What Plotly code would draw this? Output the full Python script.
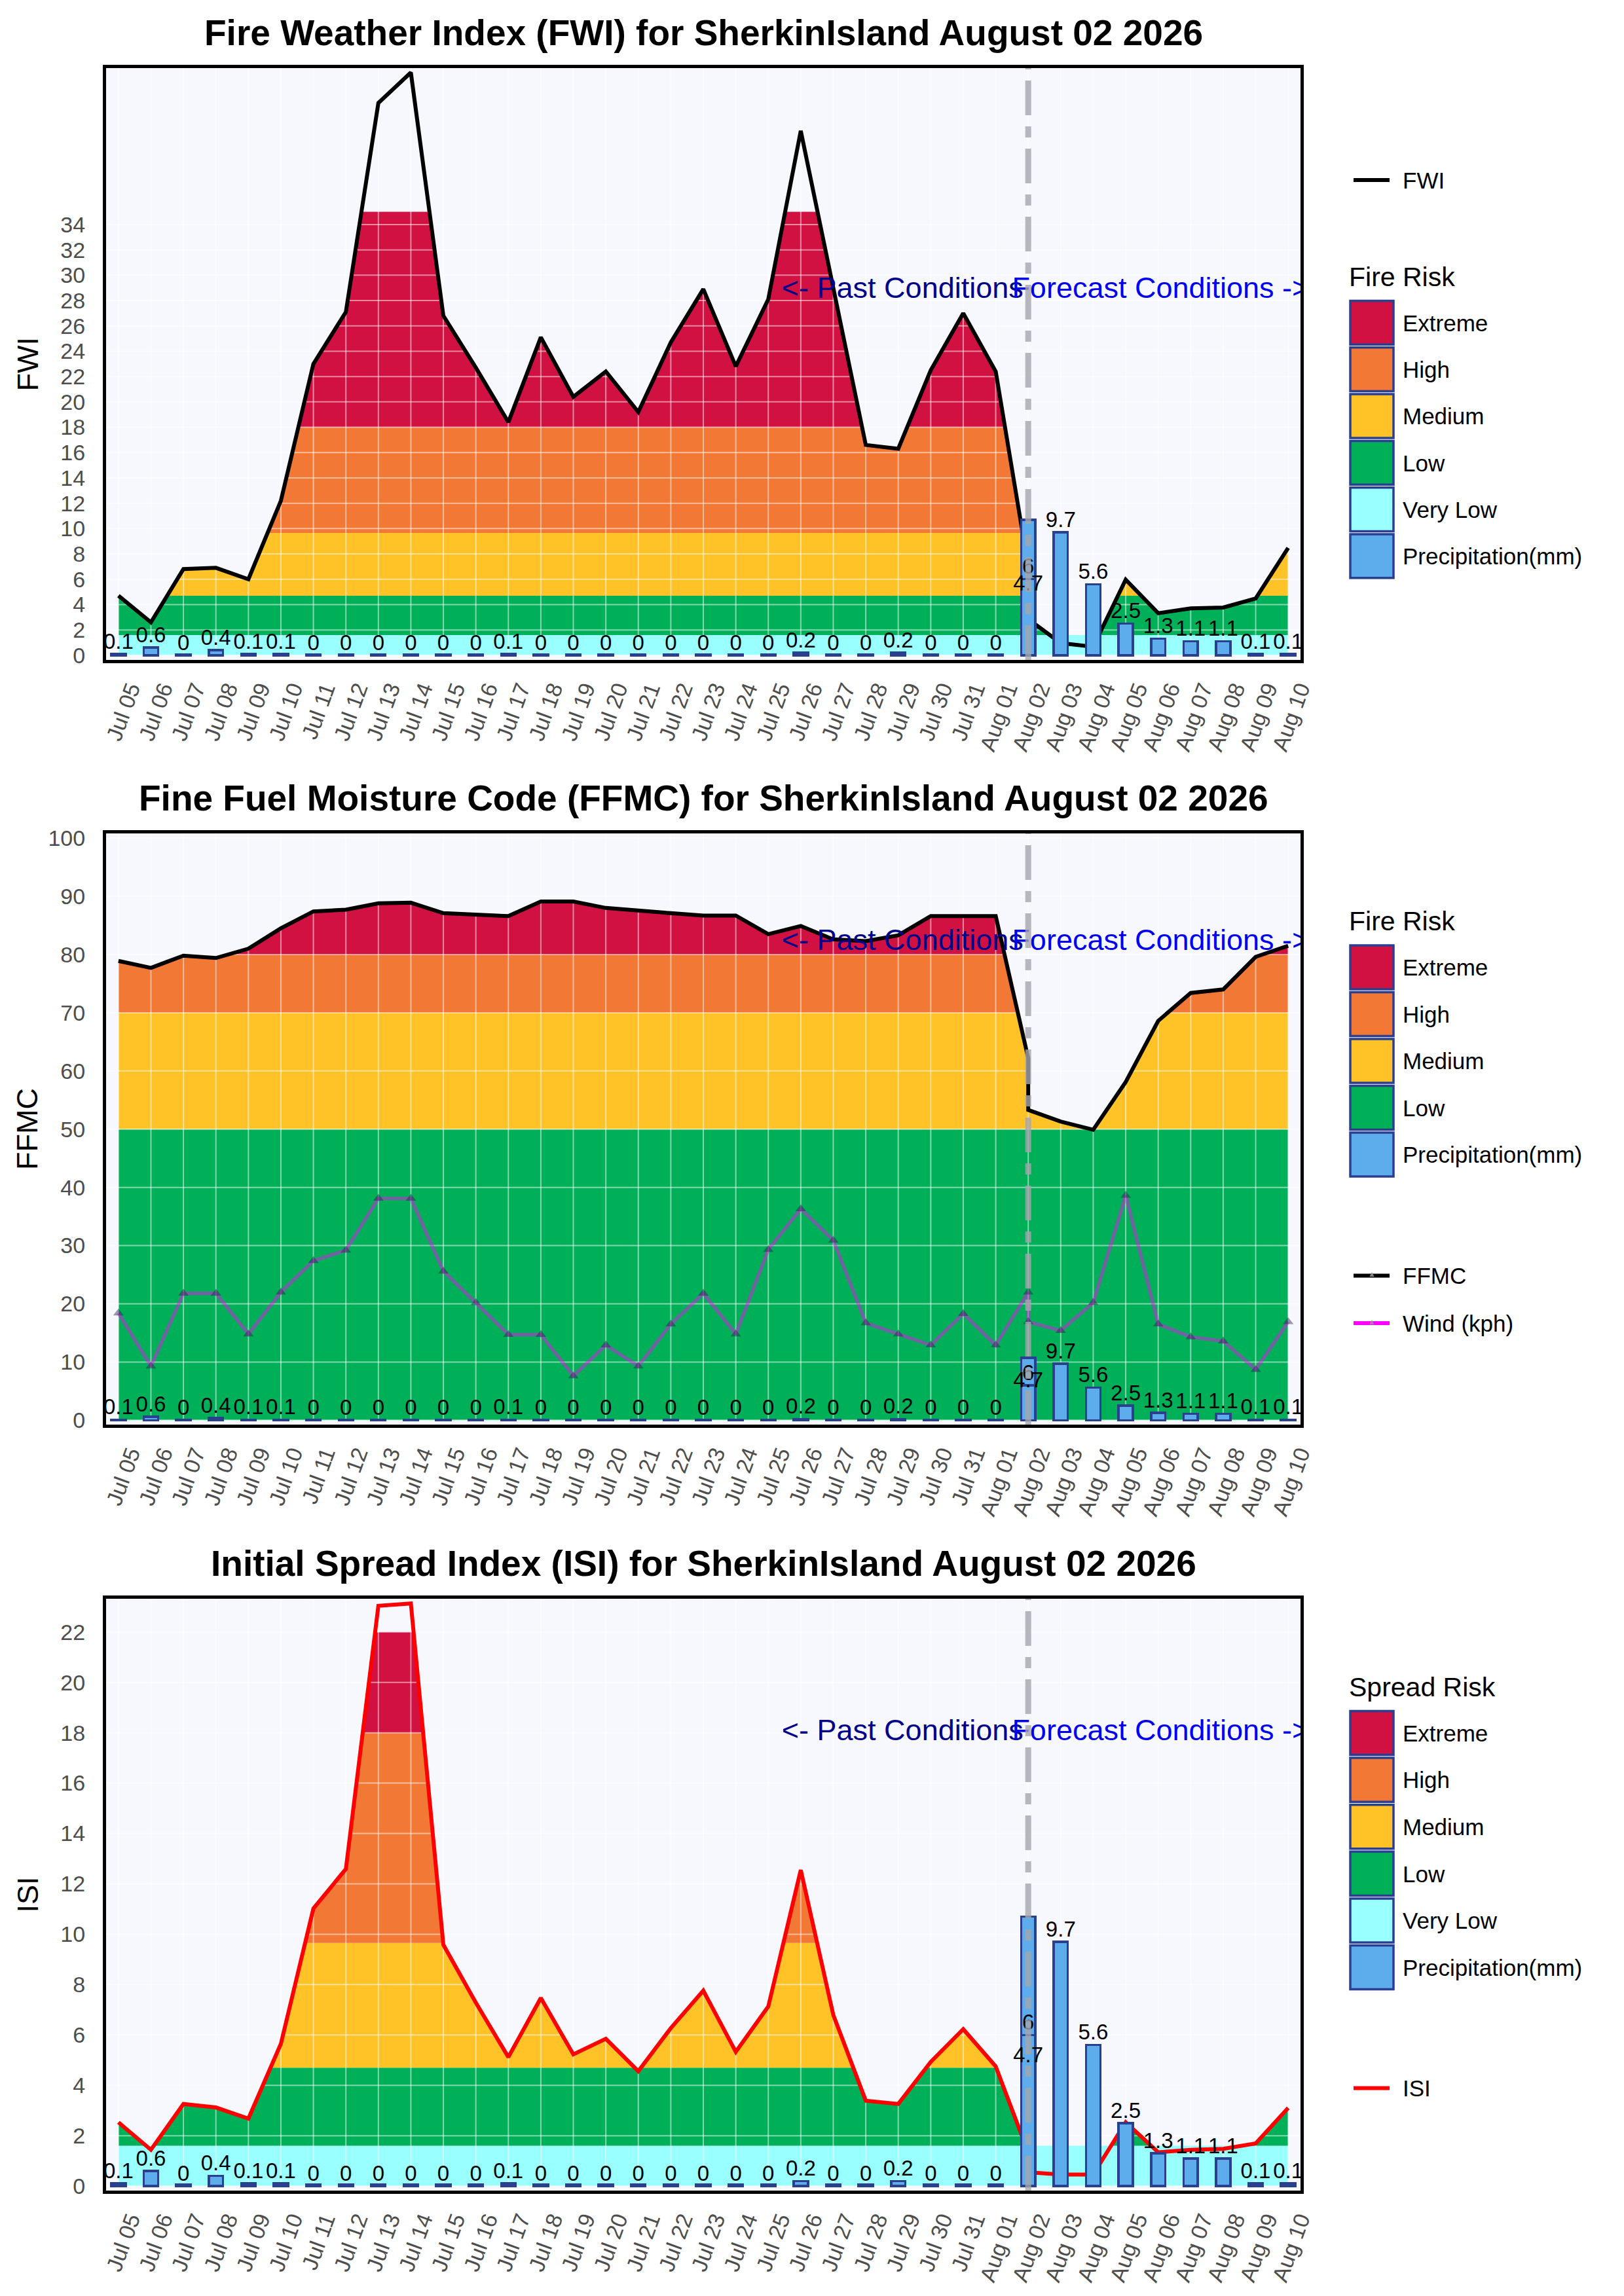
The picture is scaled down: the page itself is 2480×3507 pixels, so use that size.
import plotly.graph_objects as go

# ---------------- data ----------------
cats = ["Jul 05", "Jul 06", "Jul 07", "Jul 08", "Jul 09", "Jul 10", "Jul 11", "Jul 12", "Jul 13",
        "Jul 14", "Jul 15", "Jul 16", "Jul 17", "Jul 18", "Jul 19", "Jul 20", "Jul 21", "Jul 22",
        "Jul 23", "Jul 24", "Jul 25", "Jul 26", "Jul 27", "Jul 28", "Jul 29", "Jul 30", "Jul 31",
        "Aug 01", "Aug 02", "Aug 03", "Aug 04", "Aug 05", "Aug 06", "Aug 07", "Aug 08", "Aug 09",
        "Aug 10"]

# observation dates (Aug 02 appears twice: last observed + first forecast)
dates = ["Jul 05", "Jul 06", "Jul 07", "Jul 08", "Jul 09", "Jul 10", "Jul 11", "Jul 12", "Jul 13",
         "Jul 14", "Jul 15", "Jul 16", "Jul 17", "Jul 18", "Jul 19", "Jul 20", "Jul 21", "Jul 22",
         "Jul 23", "Jul 24", "Jul 25", "Jul 26", "Jul 27", "Jul 28", "Jul 29", "Jul 30", "Jul 31",
         "Aug 01", "Aug 02", "Aug 02", "Aug 03", "Aug 04", "Aug 05", "Aug 06", "Aug 07", "Aug 08",
         "Aug 09", "Aug 10"]

fwi = [4.7, 2.6, 6.8, 6.9, 6.0, 12.2, 23.0, 27.1, 43.6, 46.0, 26.8, 22.7, 18.4, 25.1, 20.4, 22.4,
       19.2, 24.7, 28.9, 22.8, 28.1, 41.4, 29.0, 16.6, 16.3, 22.5, 27.0, 22.4, 7.0, 2.85, 0.96, 0.67,
       5.96, 3.32, 3.7, 3.77, 4.48, 8.47]

ffmc = [78.9, 77.7, 79.8, 79.4, 81.0, 84.5, 87.4, 87.7, 88.8, 88.9, 87.1, 86.9, 86.6, 89.1, 89.1,
        88.0, 87.5, 87.1, 86.7, 86.7, 83.5, 84.9, 82.6, 82.3, 83.3, 86.6, 86.6, 86.6, 62.2, 53.3,
        51.3, 49.9, 58.1, 68.6, 73.4, 74.0, 79.6, 81.5]

wind = [18.4, 9.3, 21.8, 21.8, 14.8, 22.0, 27.4, 29.2, 38.1, 38.1, 25.6, 20.2, 14.7, 14.7, 7.6,
        12.9, 9.3, 16.5, 21.8, 14.8, 29.3, 36.3, 30.9, 16.7, 14.8, 12.9, 18.3, 12.9, 22.0, 16.9,
        15.4, 20.2, 38.6, 16.5, 14.3, 13.6, 8.7, 16.9]

isi = [2.53, 1.44, 3.26, 3.12, 2.68, 5.65, 11.02, 12.59, 23.04, 23.13, 9.58, 7.28, 5.12, 7.47,
       5.23, 5.85, 4.56, 6.27, 7.76, 5.33, 7.13, 12.55, 6.8, 3.39, 3.26, 4.93, 6.23, 4.75, 1.33,
       0.55, 0.46, 0.46, 2.53, 1.34, 1.44, 1.48, 1.69, 3.1]

precip = [0.1, 0.6, 0, 0.4, 0.1, 0.1, 0, 0, 0, 0, 0, 0, 0.1, 0, 0, 0, 0, 0, 0, 0, 0, 0.2, 0, 0,
          0.2, 0, 0, 0, 6, 4.7, 9.7, 5.6, 2.5, 1.3, 1.1, 1.1, 0.1, 0.1]

split_date = "Aug 02"

fwi_ticks = list(range(0, 36, 2))
ffmc_ticks = list(range(0, 101, 10))
isi_ticks = list(range(0, 24, 2))

# risk classes: (name, lower, upper)
fwi_bands = [("Very Low", 0, 1.6), ("Low", 1.6, 4.7), ("Medium", 4.7, 9.65), ("High", 9.65, 18),
             ("Extreme", 18, 35)]
ffmc_bands = [("Low", 0, 50), ("Medium", 50, 70), ("High", 70, 80), ("Extreme", 80, 100)]
isi_bands = [("Very Low", 0, 1.6), ("Low", 1.6, 4.7), ("Medium", 4.7, 9.65), ("High", 9.65, 18),
             ("Extreme", 18, 22)]

# ---------------- style ----------------
COL = {"Extreme": "#D01141", "High": "#F27836", "Medium": "#FFC328", "Low": "#00B058",
       "Very Low": "#99FFFF", "Precipitation(mm)": "#5DADEC"}
OUTLINE = "#2B3F8F"
BG = "#F7F8FE"
FONT = "Liberation Sans, Arial, sans-serif"
GRID = "rgba(255,255,255,0.5)"

OFF = 8  # the page body margin shifts the figure by this much
W, H = 2480 - OFF, 3507 - OFF
ML, MR, MT, MB = 162 - OFF, 494, 104 - OFF, 161 - OFF
PW = W - ML - MR
PH = H - MT - MB


def px(v):
    return (v - OFF - ML) / PW


def py(v):
    return (H - MB - (v - OFF)) / PH


panels = [(104, 1008), (1273, 2176), (2442, 3346)]

xi = [cats.index(d) for d in dates]
n = len(xi)
xr = [-0.38, len(cats) - 1 + 0.38]
split_i = cats.index(split_date)


def refine(xs, vs, levels):
    """Insert the points where the line crosses each class limit, so the
    clipped band areas follow the line exactly."""
    ox, ov = [xs[0]], [vs[0]]
    for i in range(len(xs) - 1):
        x0, v0, x1, v1 = xs[i], vs[i], xs[i + 1], vs[i + 1]
        cr = []
        for lv in levels:
            if (v0 - lv) * (v1 - lv) < 0:
                t = (lv - v0) / (v1 - v0)
                cr.append((t, x0 + t * (x1 - x0), lv))
        cr.sort()
        for _, cx, lv in cr:
            ox.append(cx)
            ov.append(lv)
        ox.append(x1)
        ov.append(v1)
    return ox, ov


fig = go.Figure()


def add_panel(k, values, bands, ticks, yr, line_color, title, ytitle, text_y, extra_line=None):
    xa = "x" if k == 1 else f"x{k}"
    ya = "y" if k == 1 else f"y{k}"
    yo = f"y{k + 3}"
    levels = sorted({b[1] for b in bands} | {b[2] for b in bands})
    rx, rv = refine(xi, values, levels)
    m = len(rx)
    # risk bands
    for j, (name, lo, hi) in enumerate(bands):
        if j == 0:
            fig.add_trace(go.Scatter(x=rx, y=[hi] * m, xaxis=xa, yaxis=ya, mode="lines",
                                     line=dict(width=0), fill="tozeroy", fillcolor=COL[name],
                                     hoverinfo="skip", showlegend=False))
        else:
            fig.add_trace(go.Scatter(x=rx, y=[lo] * m, xaxis=xa, yaxis=ya, mode="lines",
                                     line=dict(width=0), hoverinfo="skip", showlegend=False))
            fig.add_trace(go.Scatter(x=rx, y=[min(max(v, lo), hi) for v in rv], xaxis=xa,
                                     yaxis=ya, mode="lines", line=dict(width=0), fill="tonexty",
                                     fillcolor=COL[name], hoverinfo="skip", showlegend=False))
    # grid drawn over the bands
    gx, gy = [], []
    for t in ticks:
        gx += [xr[0], xr[1], None]
        gy += [t, t, None]
    for i in range(len(cats)):
        gx += [i, i, None]
        gy += [yr[0], yr[1], None]
    fig.add_trace(go.Scatter(x=gx, y=gy, xaxis=xa, yaxis=ya, mode="lines",
                             line=dict(color=GRID, width=2), hoverinfo="skip", showlegend=False))
    if extra_line is not None:
        fig.add_trace(go.Scatter(x=xi, y=extra_line, xaxis=xa, yaxis=ya, mode="lines+markers",
                                 line=dict(color="rgba(255,0,255,0.43)", width=5.5),
                                 marker=dict(symbol="triangle-up", size=14,
                                             color="rgba(40,30,80,0.45)"),
                                 showlegend=False))
    fig.add_trace(go.Scatter(x=xi, y=values, xaxis=xa, yaxis=ya, mode="lines",
                             line=dict(color=line_color, width=6), showlegend=False))
    # precipitation bars on an overlay axis so they sit above the areas
    fig.add_trace(go.Bar(x=xi, y=[max(v, 0.05) for v in precip], xaxis=xa, yaxis=yo, width=0.44,
                         marker=dict(color=COL["Precipitation(mm)"],
                                     line=dict(color=OUTLINE, width=3.5)),
                         showlegend=False))
    fig.add_trace(go.Scatter(x=xi, y=precip, xaxis=xa, yaxis=yo, mode="text",
                             text=[f"{v:g}" for v in precip], textposition="top center",
                             textfont=dict(size=33, color="black", family=FONT),
                             cliponaxis=True, showlegend=False))
    fig.add_trace(go.Scatter(x=[split_i - 0.15], y=[text_y], xaxis=xa, yaxis=yo, mode="text",
                             text=["<- Past Conditions"], textposition="middle left",
                             textfont=dict(size=45, color="#00008B", family=FONT),
                             cliponaxis=True, showlegend=False))
    fig.add_trace(go.Scatter(x=[split_i - 0.5], y=[text_y], xaxis=xa, yaxis=yo, mode="text",
                             text=["Forecast Conditions ->"], textposition="middle right",
                             textfont=dict(size=45, color="#0000EE", family=FONT),
                             cliponaxis=True, showlegend=False))

    top, bot = panels[k - 1]
    dom = [py(bot), py(top)]
    xkey = "xaxis" if k == 1 else f"xaxis{k}"
    ykey = "yaxis" if k == 1 else f"yaxis{k}"
    fig.layout[xkey] = dict(domain=[0, 1], anchor=ya, range=xr, tickmode="array",
                            tickvals=list(range(len(cats))), ticktext=cats, tickangle=-70,
                            tickfont=dict(size=34, color="#4D4D4D", family=FONT),
                            showgrid=False, zeroline=False, showline=True, mirror=True,
                            linecolor="black", linewidth=5, ticks="", ticklabelstandoff=6,
                            ticklabelshift=18)
    fig.layout[ykey] = dict(domain=dom, anchor=xa, range=yr, tickmode="array", tickvals=ticks,
                            tickfont=dict(size=34, color="#4D4D4D", family=FONT),
                            showgrid=False, zeroline=False, showline=True, mirror=True,
                            linecolor="black", linewidth=5, ticks="", ticklabelstandoff=20)
    fig.layout[f"yaxis{k + 3}"] = dict(domain=dom, anchor=xa, overlaying=ya, range=yr,
                                       visible=False, showgrid=False, zeroline=False)
    fig.add_shape(type="line", xref=xa, yref=f"{ya} domain", x0=split_i, x1=split_i, y0=0, y1=1,
                  line=dict(color="rgba(165,165,172,0.8)", width=9, dash="53px,17px,17px,17px"),
                  layer="above")
    fig.add_annotation(text=f"<b>{title}</b>", xref="paper", yref="paper", x=0.5,
                       y=py(top - 54), xanchor="center", yanchor="middle", showarrow=False,
                       font=dict(size=55, color="black", family=FONT))
    fig.add_annotation(text=ytitle, xref="paper", yref="paper", x=px(41.5),
                       y=py((top + bot) / 2), xanchor="center", yanchor="middle",
                       showarrow=False, textangle=-90,
                       font=dict(size=45, color="black", family=FONT))


add_panel(1, fwi, fwi_bands, fwi_ticks, [-0.37, 46.35], "black",
          "Fire Weather Index (FWI) for SherkinIsland August 02 2026", "FWI", 28.8)
add_panel(2, ffmc, ffmc_bands, ffmc_ticks, [-0.75, 100.8], "black",
          "Fine Fuel Moisture Code (FFMC) for SherkinIsland August 02 2026", "FFMC", 82,
          extra_line=wind)
add_panel(3, isi, isi_bands, isi_ticks, [-0.18, 23.32], "#FF0000",
          "Initial Spread Index (ISI) for SherkinIsland August 02 2026", "ISI", 18)


# ---------------- custom legends ----------------
def legend_title(text, y):
    fig.add_annotation(text=text, xref="paper", yref="paper", x=px(2058), y=py(y),
                       xanchor="left", yanchor="middle", showarrow=False,
                       font=dict(size=41, color="black", family=FONT))


def legend_boxes(names, top, step):
    for j, name in enumerate(names):
        y0 = top + j * step
        fig.add_shape(type="rect", xref="paper", yref="paper", x0=px(2062), x1=px(2128),
                      y0=py(y0 + 1.5), y1=py(y0 + step - 3), fillcolor=COL[name],
                      line=dict(color=OUTLINE, width=3.5), layer="above")
        fig.add_annotation(text=name, xref="paper", yref="paper", x=px(2140),
                           y=py(y0 + step / 2 - 0.5), xanchor="left", yanchor="middle",
                           showarrow=False, font=dict(size=35, color="black", family=FONT))


def legend_line(name, color, y, marker=False):
    fig.add_shape(type="line", xref="paper", yref="paper", x0=px(2067), x1=px(2122),
                  y0=py(y), y1=py(y), line=dict(color=color, width=6), layer="above")
    if marker:
        fig.add_annotation(text="▲", xref="paper", yref="paper", x=px(2094.5), y=py(y - 2),
                           xanchor="center", yanchor="middle", showarrow=False,
                           font=dict(size=12, color="rgba(150,150,150,0.9)", family=FONT))
    fig.add_annotation(text=name, xref="paper", yref="paper", x=px(2140), y=py(y),
                       xanchor="left", yanchor="middle", showarrow=False,
                       font=dict(size=35, color="black", family=FONT))


legend_line("FWI", "black", 275)
legend_title("Fire Risk", 423)
legend_boxes(["Extreme", "High", "Medium", "Low", "Very Low", "Precipitation(mm)"], 458, 71.3)

legend_title("Fire Risk", 1407)
legend_boxes(["Extreme", "High", "Medium", "Low", "Precipitation(mm)"], 1442.5, 71.5)
legend_line("FFMC", "black", 1948.5, marker=True)
legend_line("Wind (kph)", "#FF00FF", 2021, marker=True)

legend_title("Spread Risk", 2576.5)
legend_boxes(["Extreme", "High", "Medium", "Low", "Very Low", "Precipitation(mm)"], 2612, 71.6)
legend_line("ISI", "#FF0000", 3189.5)

fig.update_layout(width=W, height=H, margin=dict(l=ML, r=MR, t=MT, b=MB),
                  paper_bgcolor="white", plot_bgcolor=BG, barmode="stack", showlegend=False,
                  font=dict(family=FONT, color="black"))

fig.write_html("out.html")
